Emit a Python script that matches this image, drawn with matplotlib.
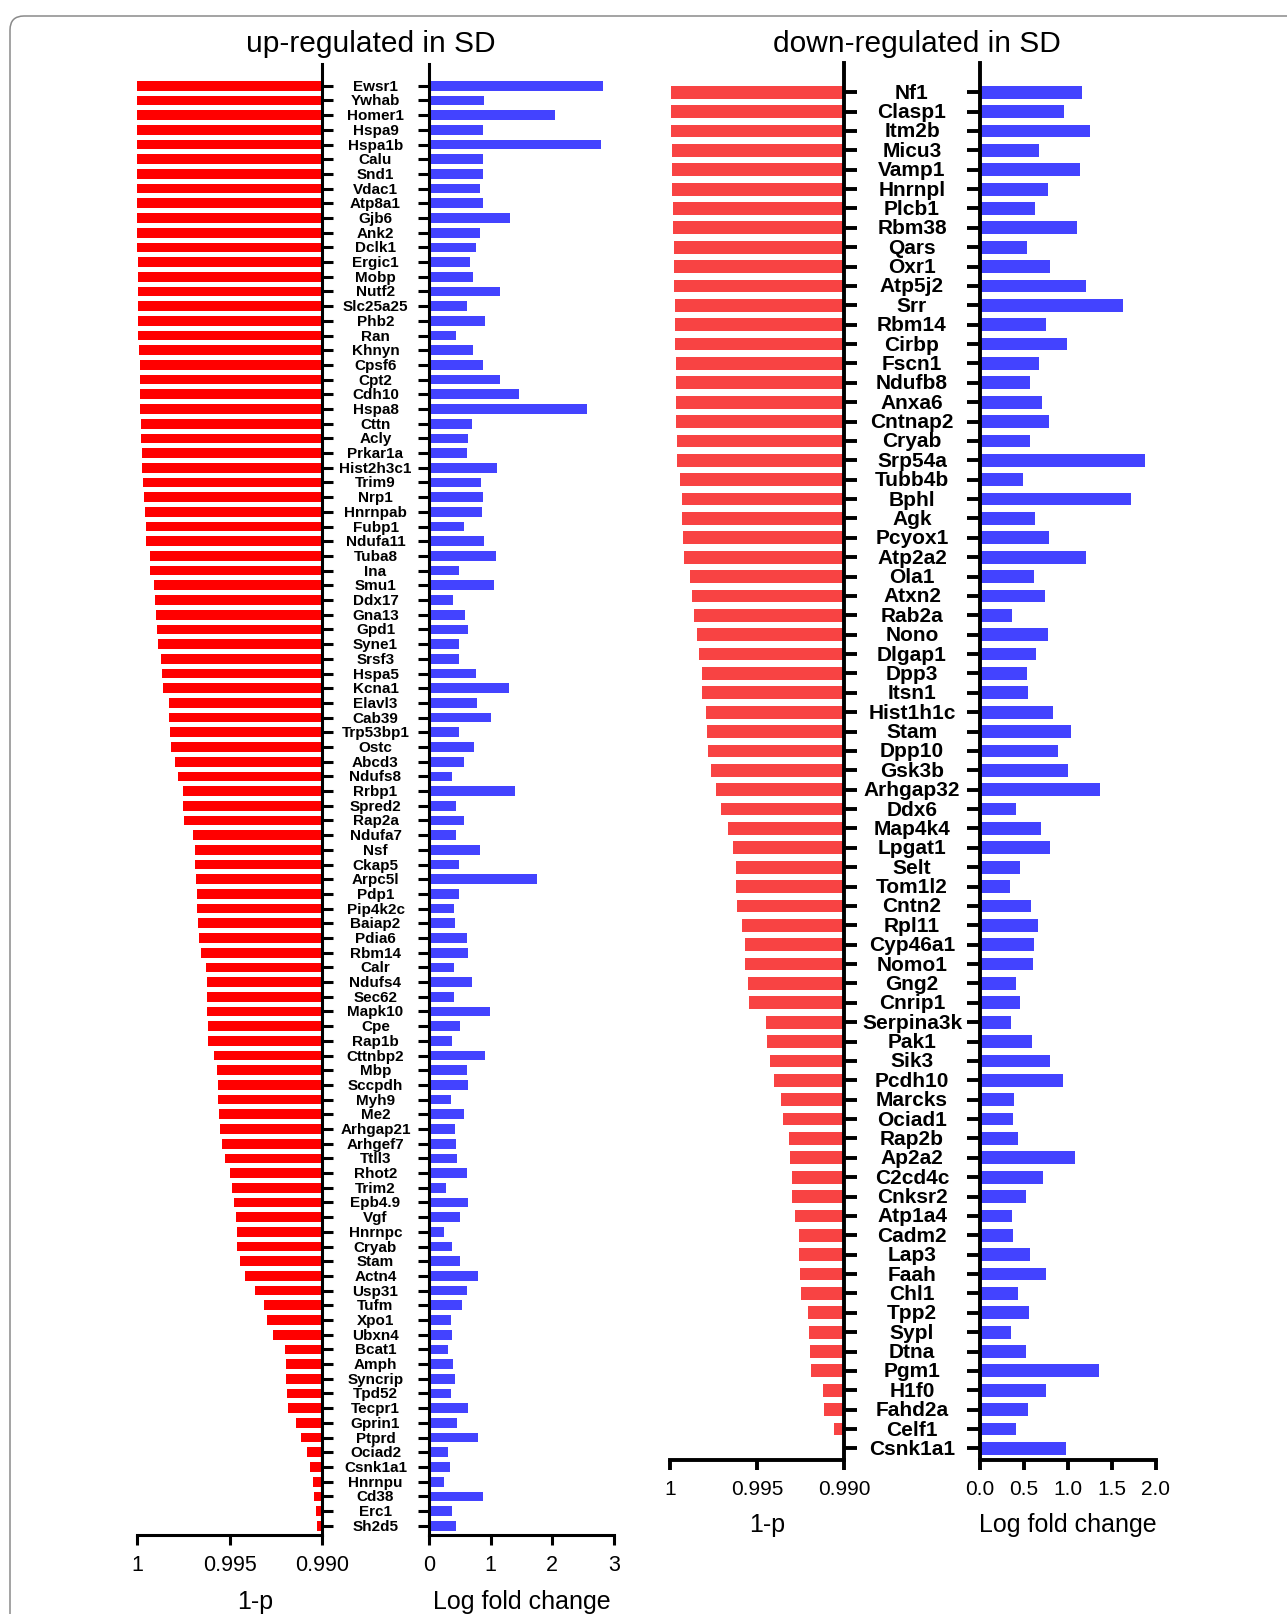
"""
Up- and down-regulated proteins in SD: 1-p and log fold change, side by side.
"""

import matplotlib
matplotlib.use('Agg')
import matplotlib.pyplot as plt
import matplotlib.transforms as mtransforms
from matplotlib.patches import FancyBboxPatch

plt.rcParams['font.family'] = ['Liberation Sans', 'DejaVu Sans']

W, H = 1287, 1615

# ---- up-regulated in SD ----
up_genes = ['Ewsr1', 'Ywhab', 'Homer1', 'Hspa9', 'Hspa1b', 'Calu', 'Snd1', 'Vdac1', 'Atp8a1', 'Gjb6',
            'Ank2', 'Dclk1', 'Ergic1', 'Mobp', 'Nutf2', 'Slc25a25', 'Phb2', 'Ran', 'Khnyn', 'Cpsf6',
            'Cpt2', 'Cdh10', 'Hspa8', 'Cttn', 'Acly', 'Prkar1a', 'Hist2h3c1', 'Trim9', 'Nrp1', 'Hnrnpab',
            'Fubp1', 'Ndufa11', 'Tuba8', 'Ina', 'Smu1', 'Ddx17', 'Gna13', 'Gpd1', 'Syne1', 'Srsf3',
            'Hspa5', 'Kcna1', 'Elavl3', 'Cab39', 'Trp53bp1', 'Ostc', 'Abcd3', 'Ndufs8', 'Rrbp1', 'Spred2',
            'Rap2a', 'Ndufa7', 'Nsf', 'Ckap5', 'Arpc5l', 'Pdp1', 'Pip4k2c', 'Baiap2', 'Pdia6', 'Rbm14',
            'Calr', 'Ndufs4', 'Sec62', 'Mapk10', 'Cpe', 'Rap1b', 'Cttnbp2', 'Mbp', 'Sccpdh', 'Myh9',
            'Me2', 'Arhgap21', 'Arhgef7', 'Ttll3', 'Rhot2', 'Trim2', 'Epb4.9', 'Vgf', 'Hnrnpc', 'Cryab',
            'Stam', 'Actn4', 'Usp31', 'Tufm', 'Xpo1', 'Ubxn4', 'Bcat1', 'Amph', 'Syncrip', 'Tpd52',
            'Tecpr1', 'Gprin1', 'Ptprd', 'Ociad2', 'Csnk1a1', 'Hnrnpu', 'Cd38', 'Erc1', 'Sh2d5']

up_one_minus_p = [1.00000, 1.00000, 1.00000, 1.00000, 1.00000, 1.00000, 1.00000, 1.00000, 1.00000, 0.99998,
                  0.99998, 0.99998, 0.99996, 0.99995, 0.99995, 0.99993, 0.99993, 0.99993, 0.99989, 0.99986,
                  0.99986, 0.99984, 0.99982, 0.99978, 0.99978, 0.99975, 0.99973, 0.99969, 0.99962, 0.99957,
                  0.99953, 0.99951, 0.99929, 0.99928, 0.99906, 0.99904, 0.99897, 0.99892, 0.99884, 0.99870,
                  0.99864, 0.99859, 0.99825, 0.99825, 0.99821, 0.99817, 0.99792, 0.99781, 0.99752, 0.99750,
                  0.99747, 0.99700, 0.99685, 0.99684, 0.99682, 0.99678, 0.99674, 0.99671, 0.99665, 0.99656,
                  0.99627, 0.99624, 0.99620, 0.99620, 0.99617, 0.99615, 0.99584, 0.99568, 0.99562, 0.99561,
                  0.99557, 0.99552, 0.99541, 0.99526, 0.99497, 0.99488, 0.99477, 0.99467, 0.99458, 0.99458,
                  0.99443, 0.99414, 0.99362, 0.99311, 0.99297, 0.99264, 0.99199, 0.99193, 0.99192, 0.99188,
                  0.99184, 0.99141, 0.99116, 0.99080, 0.99063, 0.99051, 0.99043, 0.99034, 0.99027]

up_lfc = [2.82, 0.89, 2.05, 0.87, 2.79, 0.87, 0.88, 0.82, 0.88, 1.31,
          0.83, 0.77, 0.67, 0.71, 1.15, 0.62, 0.90, 0.43, 0.72, 0.88,
          1.15, 1.46, 2.56, 0.69, 0.63, 0.61, 1.10, 0.84, 0.88, 0.86,
          0.57, 0.89, 1.09, 0.49, 1.06, 0.39, 0.58, 0.64, 0.49, 0.48,
          0.76, 1.29, 0.78, 1.01, 0.49, 0.73, 0.56, 0.37, 1.39, 0.43,
          0.57, 0.44, 0.82, 0.49, 1.75, 0.48, 0.40, 0.42, 0.62, 0.63,
          0.40, 0.69, 0.41, 0.99, 0.51, 0.38, 0.91, 0.62, 0.64, 0.36,
          0.56, 0.42, 0.43, 0.46, 0.62, 0.28, 0.64, 0.51, 0.24, 0.37,
          0.51, 0.79, 0.62, 0.54, 0.36, 0.38, 0.31, 0.39, 0.42, 0.35,
          0.64, 0.45, 0.79, 0.31, 0.34, 0.24, 0.88, 0.37, 0.44]

# ---- down-regulated in SD ----
down_genes = ['Nf1', 'Clasp1', 'Itm2b', 'Micu3', 'Vamp1', 'Hnrnpl', 'Plcb1', 'Rbm38', 'Qars', 'Oxr1',
              'Atp5j2', 'Srr', 'Rbm14', 'Cirbp', 'Fscn1', 'Ndufb8', 'Anxa6', 'Cntnap2', 'Cryab', 'Srp54a',
              'Tubb4b', 'Bphl', 'Agk', 'Pcyox1', 'Atp2a2', 'Ola1', 'Atxn2', 'Rab2a', 'Nono', 'Dlgap1',
              'Dpp3', 'Itsn1', 'Hist1h1c', 'Stam', 'Dpp10', 'Gsk3b', 'Arhgap32', 'Ddx6', 'Map4k4', 'Lpgat1',
              'Selt', 'Tom1l2', 'Cntn2', 'Rpl11', 'Cyp46a1', 'Nomo1', 'Gng2', 'Cnrip1', 'Serpina3k', 'Pak1',
              'Sik3', 'Pcdh10', 'Marcks', 'Ociad1', 'Rap2b', 'Ap2a2', 'C2cd4c', 'Cnksr2', 'Atp1a4', 'Cadm2',
              'Lap3', 'Faah', 'Chl1', 'Tpp2', 'Sypl', 'Dtna', 'Pgm1', 'H1f0', 'Fahd2a', 'Celf1',
              'Csnk1a1']

down_one_minus_p = [0.99996, 0.99996, 0.99996, 0.99990, 0.99989, 0.99987, 0.99983, 0.99981, 0.99979, 0.99977,
                    0.99975, 0.99973, 0.99971, 0.99969, 0.99967, 0.99966, 0.99966, 0.99964, 0.99962, 0.99960,
                    0.99941, 0.99931, 0.99929, 0.99927, 0.99920, 0.99887, 0.99875, 0.99860, 0.99847, 0.99835,
                    0.99816, 0.99816, 0.99793, 0.99785, 0.99780, 0.99762, 0.99734, 0.99705, 0.99669, 0.99636,
                    0.99623, 0.99619, 0.99615, 0.99588, 0.99569, 0.99567, 0.99554, 0.99546, 0.99450, 0.99443,
                    0.99427, 0.99404, 0.99362, 0.99351, 0.99316, 0.99312, 0.99299, 0.99299, 0.99282, 0.99261,
                    0.99261, 0.99253, 0.99249, 0.99209, 0.99201, 0.99193, 0.99190, 0.99121, 0.99115, 0.99059,
                    0.99006]

down_lfc = [1.16, 0.96, 1.25, 0.67, 1.14, 0.77, 0.63, 1.10, 0.53, 0.79,
            1.21, 1.62, 0.75, 0.99, 0.67, 0.57, 0.71, 0.78, 0.57, 1.88,
            0.49, 1.72, 0.63, 0.78, 1.21, 0.61, 0.74, 0.36, 0.77, 0.64,
            0.53, 0.55, 0.83, 1.03, 0.89, 1.00, 1.36, 0.41, 0.69, 0.80,
            0.46, 0.34, 0.58, 0.66, 0.61, 0.60, 0.41, 0.46, 0.35, 0.59,
            0.80, 0.94, 0.39, 0.37, 0.43, 1.08, 0.72, 0.52, 0.36, 0.38,
            0.57, 0.75, 0.43, 0.56, 0.35, 0.52, 1.35, 0.75, 0.55, 0.41,
            0.98]


def px_rect(x0, x1, y0, y1):
    """pixel box (top-left origin) -> figure fraction rect"""
    return [x0 / W, 1 - y1 / H, (x1 - x0) / W, (y1 - y0) / H]


def draw_panel(fig, genes, pvals, lfc, cfg):
    n = len(genes)
    rows = list(range(n))

    ax_p = fig.add_axes(px_rect(cfg['p_x0'], cfg['p_x1'], cfg['top'], cfg['bottom']))
    ax_l = fig.add_axes(px_rect(cfg['l_x0'], cfg['l_x1'], cfg['top'], cfg['bottom']))

    # 1-p bars grow to the left from 0.990
    ax_p.barh(rows, [v - 0.990 for v in pvals], left=0.990, height=0.66,
              color=cfg['red'], edgecolor='none')
    ax_p.set_xlim(1.0, 0.990)
    ax_p.set_xticks([1.0, 0.995, 0.990])
    ax_p.set_xticklabels(['1', '0.995', '0.990'])

    ax_l.barh(rows, lfc, height=0.66, color='#4343ff', edgecolor='none')
    ax_l.set_xlim(0, cfg['lfc_max'])
    ax_l.set_xticks(cfg['lfc_ticks'])
    ax_l.set_xticklabels(cfg['lfc_labels'])

    for ax, keep in ((ax_p, 'right'), (ax_l, 'left')):
        ax.set_ylim(cfg['ylim'])
        for side in ('top', 'left', 'right'):
            ax.spines[side].set_visible(side == keep)
        for side in ('bottom', keep):
            ax.spines[side].set_linewidth(cfg['lw'])
        ax.set_yticks(rows)
        ax.tick_params(axis='y', direction='out', length=cfg['ytick_len'],
                       width=cfg['lw'], labelleft=False, labelright=False,
                       left=(keep == 'left'), right=(keep == 'right'))
        ax.tick_params(axis='x', direction='out', length=7, width=cfg['lw'],
                       labelsize=cfg['tick_fs'], pad=7)
        ax.set_facecolor('none')

    ax_p.set_xlabel('1-p', fontsize=18)
    ax_p.xaxis.set_label_coords(cfg['p_label_x'], cfg['label_y'])
    ax_l.set_xlabel('Log fold change', fontsize=18)
    ax_l.xaxis.set_label_coords(0.5, cfg['label_y'])
    for ax in (ax_p, ax_l):
        ax.xaxis.label.set_va('center')

    # gene names in the gap between the two axes
    trans = mtransforms.blended_transform_factory(fig.transFigure, ax_p.transData)
    xc = (cfg['p_x1'] + cfg['l_x0']) / 2 / W
    for r, g in zip(rows, genes):
        ax_p.text(xc, r, g, transform=trans, ha='center', va='center',
                  fontsize=cfg['gene_fs'], fontweight='bold', clip_on=False)

    fig.text(cfg['title_x'] / W, 1 - 44 / H, cfg['title'], ha='center', va='center', fontsize=21.5)


def main():
    fig = plt.figure(figsize=(W / 100, H / 100), dpi=100)

    # light rounded frame around the figure
    frame = FancyBboxPatch((0.10, -0.30), 13.2, 16.28, boxstyle='round,pad=0,rounding_size=0.14',
                           transform=fig.dpi_scale_trans, facecolor='none',
                           edgecolor='#8a8a8a', linewidth=1.1)
    fig.patches.append(frame)

    up_cfg = dict(p_x0=137, p_x1=322, l_x0=429, l_x1=614, top=65, bottom=1536,
                  ylim=(98.63, -1.48), red='#ff0000', lw=2.2, ytick_len=8,
                  tick_fs=15.5, gene_fs=11, lfc_max=3, lfc_ticks=[0, 1, 2, 3],
                  lfc_labels=['0', '1', '2', '3'], p_label_x=0.64, label_y=-0.045,
                  title='up-regulated in SD', title_x=371)
    down_cfg = dict(p_x0=670, p_x1=844, l_x0=980, l_x1=1156, top=64, bottom=1461,
                    ylim=(70.6, -1.51), red='#f84343', lw=2.8, ytick_len=9.5,
                    tick_fs=15, gene_fs=15, lfc_max=2, lfc_ticks=[0, 0.5, 1, 1.5, 2],
                    lfc_labels=['0.0', '0.5', '1.0', '1.5', '2.0'], p_label_x=0.56,
                    label_y=-0.046, title='down-regulated in SD', title_x=917)

    draw_panel(fig, up_genes, up_one_minus_p, up_lfc, up_cfg)
    draw_panel(fig, down_genes, down_one_minus_p, down_lfc, down_cfg)

    fig.savefig('out.png', dpi=100)


if __name__ == '__main__':
    main()
